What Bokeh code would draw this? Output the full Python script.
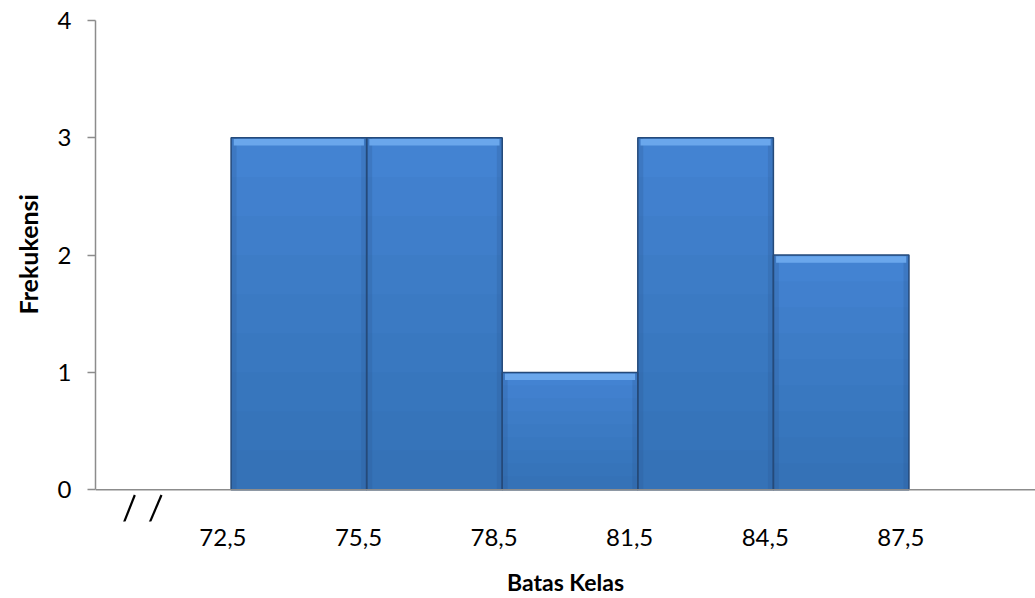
from bokeh.plotting import figure
from bokeh.models import Range1d, LinearAxis, FixedTicker, Span, Title
from bokeh.embed import file_html
from bokeh.resources import INLINE

# Data
edges = [72.5, 75.5, 78.5, 81.5, 84.5, 87.5]
freq = [3, 3, 1, 3, 2]
x_ticks = [72.5, 75.5, 78.5, 81.5, 84.5, 87.5]
x_tick_labels = ["72,5", "75,5", "78,5", "81,5", "84,5", "87,5"]
y_ticks = [0, 1, 2, 3, 4]

FONT = "Lato"
XMIN, XMAX = 69.5, 90.3
YMIN, YMAX = -0.271, 4     # frame extends a little below 0 for the axis-break marks
LABEL_SHIFT = 0.18  # shift labels slightly left (style)

p = figure(width=1035, height=598, output_backend="svg", toolbar_location=None,
           x_range=Range1d(XMIN, XMAX), y_range=Range1d(YMIN, YMAX),
           x_axis_location=None, y_axis_location="left",
           min_border_left=94, min_border_right=0, min_border_top=20, min_border_bottom=74)
p.outline_line_color = None
p.xgrid.visible = False
p.ygrid.visible = False
p.background_fill_color = "white"
p.border_fill_color = "white"

p.extra_x_ranges = {"lab": Range1d(XMIN + LABEL_SHIFT, XMAX + LABEL_SHIFT)}
xax = LinearAxis(x_range_name="lab", ticker=FixedTicker(ticks=x_ticks))
xax.major_label_overrides = {t: l for t, l in zip(x_ticks, x_tick_labels)}
xax.major_tick_out = 0
xax.major_tick_in = 0
xax.minor_tick_line_color = None
xax.axis_line_color = None
xax.major_label_text_font = FONT
xax.major_label_text_font_size = "24px"
xax.major_label_text_color = "black"
xax.major_label_standoff = 7
xax.axis_label = "Batas Kelas"
xax.axis_label_text_font = FONT
xax.axis_label_text_font_style = "bold"
xax.axis_label_text_font_size = "23px"
xax.axis_label_text_color = "black"
xax.axis_label_standoff = 19
p.add_layout(xax, "below")

yax = p.yaxis[0]
yax.ticker = FixedTicker(ticks=y_ticks)
yax.bounds = (0, 4)
yax.major_tick_out = 8
yax.major_tick_in = 0
yax.minor_tick_line_color = None
yax.axis_line_color = "#8c8c8c"
yax.axis_line_width = 1.5
yax.major_tick_line_color = "#8c8c8c"
yax.major_tick_line_width = 1.5
yax.major_label_text_font = FONT
yax.major_label_text_font_size = "24px"
yax.major_label_text_color = "black"
yax.major_label_standoff = 16

ytitle = Title(text="Frekukensi", align="left", offset=207, vertical_align="middle",
               standoff=22, text_font=FONT, text_font_size="25px",
               text_font_style="bold", text_color="black")
p.add_layout(ytitle, "left")

# x-axis baseline at y = 0
p.add_layout(Span(location=0, dimension="width", line_color="#8c8c8c", line_width=1.5))

lefts = edges[:-1]
rights = edges[1:]
# main bars
p.quad(left=lefts, right=rights, bottom=0, top=freq,
       fill_color="#4383d2", line_color=None)
# subtle vertical gradient (darker toward bottom)
for k in range(1, 9):
    frac = k / 9.0
    p.quad(left=lefts, right=rights, bottom=0, top=[f * frac for f in freq],
           fill_color="#2f5f9f", fill_alpha=0.07, line_color=None)
# darker side edges
p.quad(left=lefts, right=[l + 0.12 for l in lefts], bottom=0, top=freq,
       fill_color="#2c5894", fill_alpha=0.25, line_color=None)
p.quad(left=[r - 0.12 for r in rights], right=rights, bottom=0, top=freq,
       fill_color="#2c5894", fill_alpha=0.25, line_color=None)
# bevel highlight at top
p.quad(left=[l + 0.06 for l in lefts], right=[r - 0.06 for r in rights],
       bottom=[f - 0.065 for f in freq], top=[f - 0.01 for f in freq],
       fill_color="#6aa7ec", line_color=None)
p.quad(left=lefts, right=rights, bottom=0, top=freq,
       fill_color=None, line_color="#254a7a", line_width=1.5)

# axis break marks "/ /" below the axis origin
brk_x0 = [70.12, 70.69]
brk_x1 = [70.37, 70.96]
p.segment(x0=brk_x0, y0=[-0.289, -0.289], x1=brk_x1, y1=[-0.045, -0.045],
          line_color="black", line_width=2.2)

open("out.html", "w").write(file_html(p, INLINE))
